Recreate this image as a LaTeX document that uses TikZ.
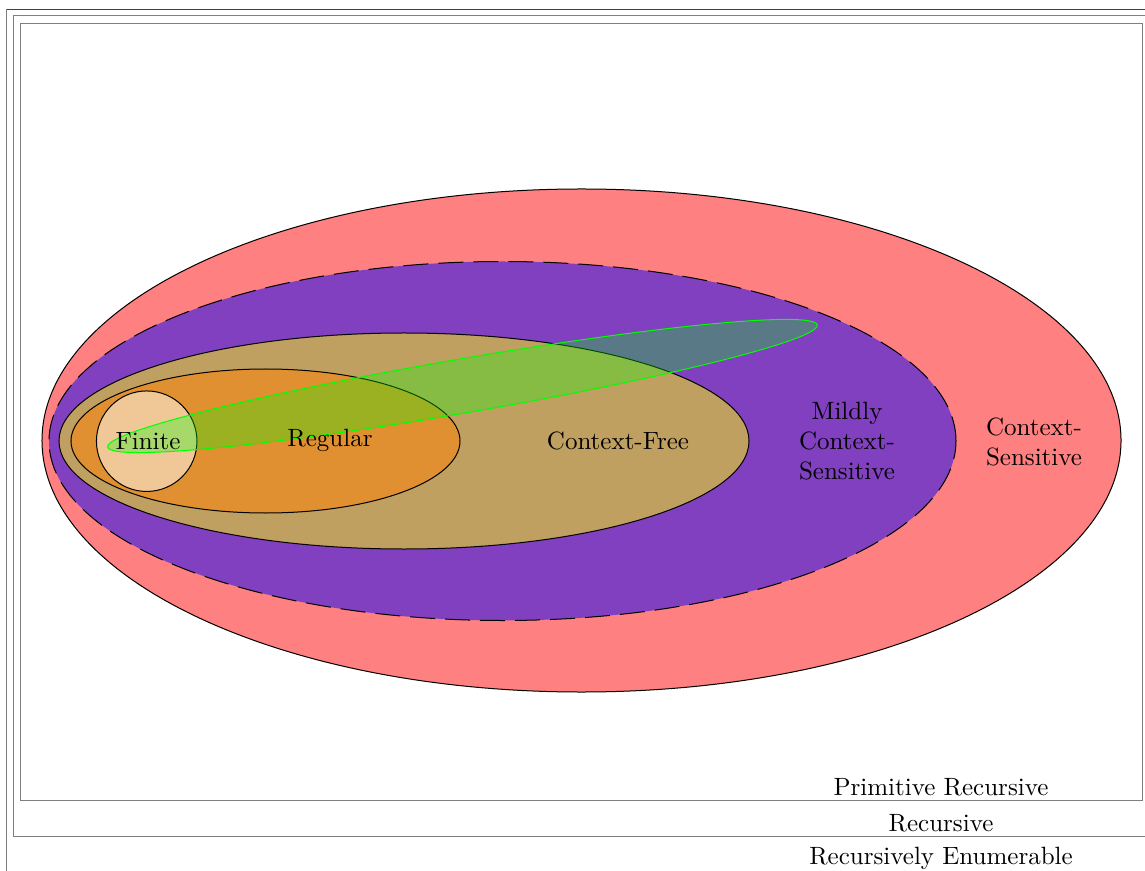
\documentclass[tikz,border=0pt]{standalone}
\definecolor{csred}{RGB}{255,128,128}
\definecolor{mcspurple}{RGB}{128,64,192}
\definecolor{cftan}{RGB}{192,160,96}
\definecolor{regorange}{RGB}{224,144,48}
\definecolor{finpeach}{RGB}{240,200,152}
\begin{document}
\begin{tikzpicture}[x=0.4pt,y=-0.4pt,
  cls/.style={draw=black, line width=0.4pt},
  frame/.style={draw=gray, line width=0.4pt},
  lbl/.style={inner sep=0pt, align=center}]
\useasboundingbox (0,0) rectangle (1145,871);
\begin{scope}
  \clip (0,0) rectangle (1145,871);
  % nested frames: recursively enumerable, recursive, primitive recursive
  \draw[frame] (6.7,9.3) rectangle (1156,880);
  \draw[draw=black!75, line width=0.4pt] (6.7,9.3) -- (1156,9.3);
  \draw[frame] (13.3,15.8) rectangle (1149,836);
  \draw[frame] (20.7,23.5) rectangle (1142,800);

  % language classes
  \draw[cls, fill=csred] (581.5,440.5) ellipse [x radius=215.8pt, y radius=100.6pt];
  \draw[cls, fill=mcspurple, dash pattern=on 10pt off 4pt]
    (502.5,441) ellipse [x radius=181.4pt, y radius=71.8pt];
  \draw[cls, fill=cftan] (404,441) ellipse [x radius=138pt, y radius=43.2pt];
  \draw[cls, fill=regorange] (265.5,441) ellipse [x radius=77.8pt, y radius=28.8pt];
  \draw[cls, fill=finpeach] (146.7,441.2) circle [radius=20.1pt];
  \draw[draw=green, line width=0.4pt, fill=green, fill opacity=0.3,
        rotate around={9.76:(462.5,386)}]
    (462.5,386) ellipse [x radius=144pt, y radius=10.8pt];
\end{scope}

\node[lbl] (fin) at (148,441) {Finite};
\node[lbl] (reg) at (330,440) {Regular};
\node[lbl] (cf) at (618,441) {Context-Free};
\node[lbl] (mcs) at (847,441) {Mildly\\Context-\\Sensitive};
\node[lbl] (cs) at (1034,442) {Context-\\Sensitive};
\node[lbl] (pr) at (941,787) {Primitive Recursive};
\node[lbl] (rec) at (941,823) {Recursive};
\node[lbl] (re) at (941,858) {Recursively Enumerable};
\end{tikzpicture}
\end{document}
